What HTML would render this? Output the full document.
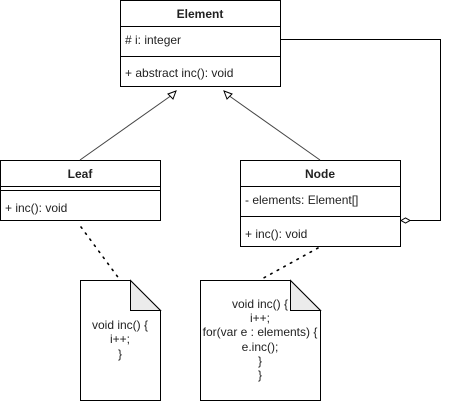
<!DOCTYPE html>
<html><head><meta charset="utf-8"><style>
html,body{margin:0;padding:0;background:#fff;}
svg{display:block;}
text{font-family:"Liberation Sans",Arial,sans-serif;font-size:12px;fill:#222;}
.b{font-weight:bold;}
</style></head><body>
<svg width="449" height="401" viewBox="0 0 449 401" xmlns="http://www.w3.org/2000/svg">
<g fill="#fff" stroke="#000" stroke-width="1">
<rect x="120.5" y="0.5" width="160" height="86"/>
<line x1="120.5" y1="26.5" x2="280.5" y2="26.5"/>
<line x1="120.5" y1="56.5" x2="280.5" y2="56.5"/>
<rect x="0.5" y="160.5" width="160" height="60"/>
<line x1="0.5" y1="186.5" x2="160.5" y2="186.5"/>
<line x1="0.5" y1="190.5" x2="160.5" y2="190.5"/>
<rect x="240.5" y="160.5" width="160" height="86"/>
<line x1="240.5" y1="186.5" x2="400.5" y2="186.5"/>
<line x1="240.5" y1="216.5" x2="400.5" y2="216.5"/>
</g>
<g stroke="#444" stroke-width="1" fill="none">
<line x1="80" y1="160" x2="172" y2="95"/>
<line x1="320" y1="160" x2="228" y2="95"/>
</g>
<g fill="#fff" stroke="#000" stroke-width="1">
<polygon points="176,91 168,94 173,99"/>
<polygon points="224,91 232,94 227,99"/>
</g>
<polyline points="280.5,39.5 440.5,39.5 440.5,220.5 410,220.5" fill="none" stroke="#000"/>
<polygon points="401,220.5 405.5,218 410,220.5 405.5,223" fill="#fff" stroke="#000"/>
<g stroke="#000" stroke-width="1.6" stroke-dasharray="1.5 6" stroke-linecap="round" fill="none">
<line x1="81" y1="227" x2="120" y2="280"/>
<line x1="318" y1="248" x2="260" y2="280"/>
</g>
<g stroke="#000" stroke-width="1">
<path d="M80.5 280.5 H130.5 L160.5 310.5 V400.5 H80.5 Z" fill="#fff"/>
<path d="M130.5 280.5 V310.5 H160.5 Z" fill="#ebebeb"/>
<path d="M200.5 280.5 H290.5 L320.5 310.5 V400.5 H200.5 Z" fill="#fff"/>
<path d="M290.5 280.5 V310.5 H320.5 Z" fill="#ebebeb"/>
</g>
<text class="b" x="200" y="18" text-anchor="middle">Element</text>
<text x="125" y="44">#&#160;i: integer</text>
<text x="125" y="77">+ abstract inc(): void</text>
<text class="b" x="80" y="178" text-anchor="middle">Leaf</text>
<text x="5" y="212">+ inc(): void</text>
<text class="b" x="320" y="178" text-anchor="middle">Node</text>
<text x="245" y="204">- elements: Element[]</text>
<text x="245" y="238">+ inc(): void</text>
<g text-anchor="middle">
<text x="120" y="329">void inc() {</text>
<text x="120" y="343">i++;</text>
<text x="120" y="358">}</text>
<text x="260" y="308">void inc() {</text>
<text x="260" y="322">i++;</text>
<text x="260" y="336">for(var e : elements) {</text>
<text x="260" y="351">e.inc();</text>
<text x="260" y="365">}</text>
<text x="260" y="379">}</text>
</g>
</svg>
</body></html>
